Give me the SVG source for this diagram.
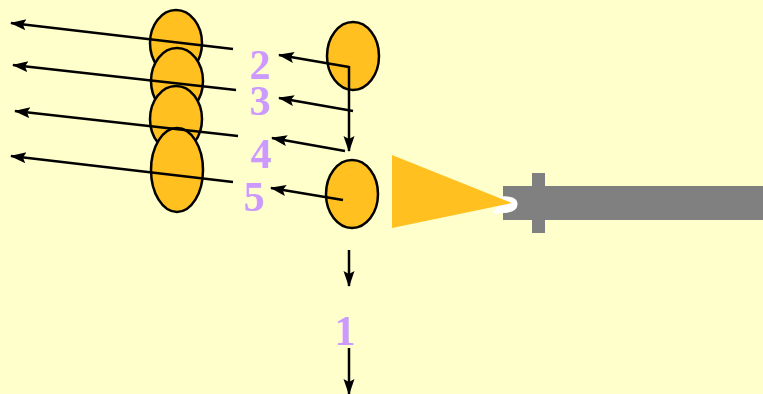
<svg xmlns="http://www.w3.org/2000/svg" width="763" height="394" viewBox="0 0 763 394">
<style>
.ell{fill:#FFC020;stroke:#000;stroke-width:2.5}
.ln{fill:none;stroke:#000;stroke-width:2.5}
.lbl{font-family:"Liberation Serif",serif;font-weight:bold;font-size:42px;fill:#CC99FF;text-anchor:middle}
</style>
<defs>
<marker id="ah" markerUnits="userSpaceOnUse" markerWidth="18" markerHeight="12" refX="15" refY="5.5" orient="auto">
<path d="M0,0 L16,5.5 L0,11 L3,5.5 Z" fill="#000"/>
</marker>
</defs>
<rect width="763" height="394" fill="#FFFFCC"/>
<g id="lens-stack">
<ellipse id="e1" class="ell" cx="176" cy="43" rx="26" ry="33"/>
<ellipse id="e2" class="ell" cx="177" cy="81" rx="26" ry="33"/>
<ellipse id="e3" class="ell" cx="176" cy="119" rx="26" ry="33"/>
<ellipse id="e4" class="ell" cx="177" cy="170" rx="26" ry="42"/>
</g>
<g id="top-ball"><ellipse class="ell" cx="353" cy="56" rx="26" ry="34"/></g>
<g id="bottom-ball"><ellipse class="ell" cx="352" cy="194" rx="26" ry="34"/></g>
<g id="gun">
<rect x="503" y="186" width="260" height="34" fill="#808080"/>
<rect x="532" y="173" width="13" height="60" fill="#808080"/>
<path d="M500,198.5 Q516,197 515.5,204.5 Q515,212 495,211.5" fill="#fff" stroke="#fff" stroke-width="4" stroke-linecap="round"/>
<polygon points="392,155 392,228 512,203" fill="#FFC020"/>
</g>
<g id="connectors">
<line class="ln" x1="233" y1="49" x2="11" y2="23" marker-end="url(#ah)"/>
<line class="ln" x1="236" y1="90" x2="13" y2="65" marker-end="url(#ah)"/>
<line class="ln" x1="238" y1="136" x2="15" y2="111" marker-end="url(#ah)"/>
<line class="ln" x1="233" y1="182" x2="11" y2="156" marker-end="url(#ah)"/>
<line class="ln" x1="349" y1="67" x2="279" y2="55" marker-end="url(#ah)"/>
<line class="ln" x1="349" y1="66" x2="349" y2="151" marker-end="url(#ah)"/>
<line class="ln" x1="353" y1="111" x2="279" y2="98" marker-end="url(#ah)"/>
<line class="ln" x1="345" y1="151" x2="272" y2="138" marker-end="url(#ah)"/>
<line class="ln" x1="343" y1="200" x2="271" y2="188" marker-end="url(#ah)"/>
<line class="ln" x1="349" y1="250" x2="349" y2="286" marker-end="url(#ah)"/>
<line class="ln" x1="349" y1="348" x2="349" y2="394" marker-end="url(#ah)"/>
</g>
<g id="labels">
<text class="lbl" x="260" y="79">2</text>
<text class="lbl" x="260" y="115">3</text>
<text class="lbl" x="261" y="168">4</text>
<text class="lbl" x="254" y="211">5</text>
<text class="lbl" x="345" y="345">1</text>
</g>
</svg>
